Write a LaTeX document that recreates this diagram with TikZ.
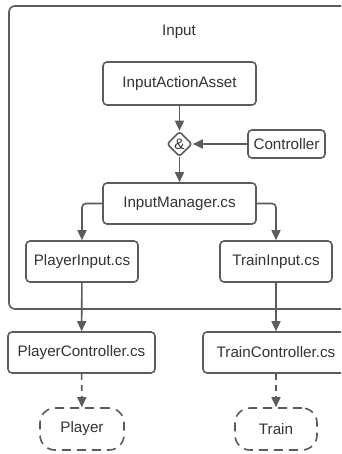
\documentclass[tikz,border=0pt]{standalone}
\usepackage{fontspec}
\setmainfont{Liberation Sans}
\usetikzlibrary{arrows.meta,shapes.geometric}
\definecolor{edge}{HTML}{5C5C5C}
\definecolor{ink}{HTML}{333333}
\tikzset{
  box/.style={draw=edge, line width=1.6pt, rounded corners=4pt, inner sep=0pt,
    text=ink, font=\fontsize{15.2}{18}\selectfont},
  term/.style={draw=edge, line width=1.6pt, dash pattern=on 9pt off 6pt,
    rounded corners=15pt, inner sep=0pt, text=ink,
    font=\fontsize{15.2}{18}\selectfont},
  gate/.style={diamond, draw=edge, line width=1.6pt, rounded corners=2.5pt,
    inner sep=0pt, minimum width=25pt, minimum height=25pt, text=ink,
    font=\fontsize{15.2}{18}\selectfont},
  arr/.style={draw=edge, line width=1.6pt, rounded corners=4pt,
    -{Triangle[length=10pt,width=9pt]}},
  darr/.style={arr, dash pattern=on 6pt off 5pt},
}
\begin{document}
\begin{tikzpicture}[x=1pt, y=-1pt]
\useasboundingbox (0,0) rectangle (341,454);
\clip (0,0) rectangle (341,454);
\fill[white] (0,0) rectangle (341,454);

% enclosing Input group
\draw[edge, line width=1.6pt, rounded corners=6pt] (9,6) rectangle (360,309);
\node[text=ink, font=\fontsize{15.2}{18}\selectfont] (title) at (179,32) {Input};

% nodes
\node[box, minimum width=153pt, minimum height=43pt] (ia) at (179.5,83.5) {InputActionAsset};
\node[gate] (amp) at (179.5,144) {\&};
\node[box, minimum width=77pt, minimum height=28pt] (ctrl) at (286.5,144) {Controller};
\node[box, minimum width=153pt, minimum height=41pt] (im) at (179.5,203.5) {InputManager.cs};
\node[box, minimum width=112pt, minimum height=41pt] (pi) at (82,261.5) {PlayerInput.cs};
\node[box, minimum width=112pt, minimum height=41pt] (ti) at (276,261.5) {TrainInput.cs};
\node[box, minimum width=147pt, minimum height=41pt] (pc) at (81.5,352.5) {PlayerController.cs};
\node[box, minimum width=146pt, minimum height=41pt] (tc) at (276,352.5) {TrainController.cs};
\node[term, minimum width=84pt, minimum height=42pt] (pl) at (82,429) {Player};
\node[term, minimum width=82pt, minimum height=42pt] (tr) at (276,429) {Train};

% connectors
\draw[arr] (ia) -- (amp);
\draw[arr] (ctrl) -- (amp);
\draw[arr] (amp) -- (im);
\draw[arr] (im.west) -| (pi);
\draw[arr] (im.east) -| (ti);
\draw[arr] (pi) -- (pc);
\draw[arr] (ti) -- (tc);
\draw[darr] (pc) -- (pl);
\draw[darr] (tc) -- (tr);
\end{tikzpicture}
\end{document}
